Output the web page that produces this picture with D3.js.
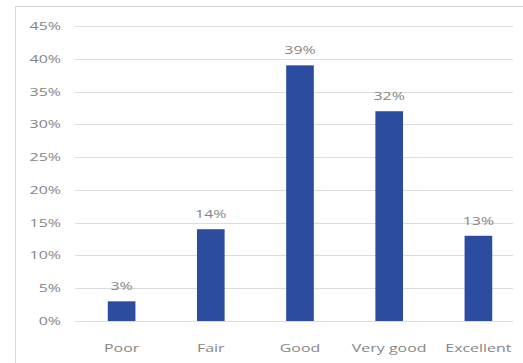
<!DOCTYPE html>
<html>
<head>
<meta charset="utf-8">
<script src="https://cdn.jsdelivr.net/npm/d3@7"></script>
<style>
  body { margin: 0; background: #fff; }
  text { font-family: "Open Sans", sans-serif; fill: #858585; }
</style>
</head>
<body>
<svg width="523" height="363"></svg>
<script>
const categories = ["Poor", "Fair", "Good", "Very good", "Excellent"];
const values = [3, 14, 39, 32, 13];
const yTicks = [0, 5, 10, 15, 20, 25, 30, 35, 40, 45];

const svg = d3.select("svg"),
  width = +svg.attr("width"),
  height = +svg.attr("height");

// text in the picture is stretched wide
const sx = 1.45;

// frame, only top and left edges show
svg.append("path")
  .attr("d", `M15.5,${height}V6.5H${width}`)
  .attr("fill", "none")
  .attr("stroke", "#d9d9d9");

const x = d3.scaleBand()
  .domain(categories)
  .range([77, 523])
  .paddingInner(0.69)
  .paddingOuter(0.345);

const y = d3.scaleLinear()
  .domain([0, 45])
  .range([321, 26]);

// gridlines
svg.append("g")
  .selectAll("line")
  .data(yTicks)
  .join("line")
  .attr("x1", 75).attr("x2", 513)
  .attr("y1", d => Math.round(y(d)) + 0.5)
  .attr("y2", d => Math.round(y(d)) + 0.5)
  .attr("stroke", "#dcdcdc");

// y labels
svg.append("g")
  .selectAll("text")
  .data(yTicks)
  .join("text")
  .attr("transform", d => `translate(61,${y(d) + 4}) scale(${sx},1)`)
  .attr("text-anchor", "end")
  .style("font-size", "11px")
  .text(d => d + "%");

// bars
svg.append("g")
  .selectAll("rect")
  .data(values)
  .join("rect")
  .attr("x", (d, i) => x(categories[i]))
  .attr("width", x.bandwidth())
  .attr("y", d => y(d))
  .attr("height", d => y(0) - y(d))
  .attr("fill", "#2c4d9f");

// value labels
svg.append("g")
  .selectAll("text")
  .data(values)
  .join("text")
  .attr("transform", (d, i) => `translate(${x(categories[i]) + x.bandwidth() / 2},${y(d) - 11}) scale(${sx},1)`)
  .attr("text-anchor", "middle")
  .style("font-size", "11px")
  .text(d => d + "%");

// category labels
svg.append("g")
  .selectAll("text")
  .data(categories)
  .join("text")
  .attr("transform", d => `translate(${x(d) + x.bandwidth() / 2},352) scale(${sx},1)`)
  .attr("text-anchor", "middle")
  .style("font-size", "11px")
  .text(d => d);
</script>
</body>
</html>
